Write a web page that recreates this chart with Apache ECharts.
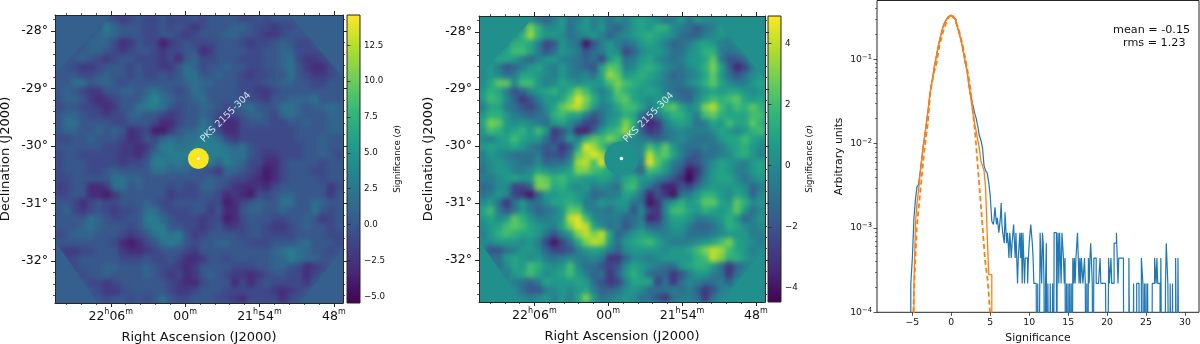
<!DOCTYPE html>
<html><head><meta charset="utf-8">
<style>html,body{margin:0;padding:0;background:#fff}#c{width:1200px;height:344px}</style>
<script src="https://cdn.jsdelivr.net/npm/echarts@6/dist/echarts.min.js"></script>
</head><body><div id="c"></div>
<script>
// Significance (rows top to bottom, columns left to right)
const sigRight = [
[0,0,0,0,0,0,0,-1,-1.5,-.5,.5,-1,-.5,.5,-.5,0,-1,0,-.5,.5,1,.5,0,-1,-.5,.5,-1,.5,0,0,0,0,0,0,0,0],
[0,0,0,0,0,0,3,1.5,0,0,.5,-1,0,.5,-.5,.5,-1,-1.5,-.5,.5,1,.5,1.5,1.5,0,-.5,-1,-2,-1,-.5,.5,0,0,0,0,0],
[0,0,0,0,0,1.5,3.5,1.5,.5,.5,0,-1,-.5,0,.5,-.5,-1.5,-.5,0,.5,1,1.5,1,.5,0,-1,-1.5,-1.5,-.5,0,.5,0,0,0,0,0],
[0,0,0,0,1.5,1.5,1,-.5,-2.5,-2,.5,-.5,-1,-4,-2,-.5,.5,-.5,-1,-.5,.5,1,.5,-.5,-1.5,-1,-.5,.5,1,.5,-.5,-.5,0,0,0,0],
[0,0,0,1,2,2,1,-.5,-2,-1,.5,0,-.5,-2,-1,-.5,.5,0,-2.5,-1.5,0,.5,.5,0,-1,-1,0,.5,1.5,1.5,-.5,-1,-.5,0,0,0],
[0,0,1,1,.5,-.5,-1.5,-.5,.5,.5,-.5,-.5,-1,-1.5,-1,-2.5,.5,1.5,-1,-.5,.5,1,0,-.5,-1,-.5,.5,.5,1,2.5,-.5,-2,-2,-1,.5,0],
[0,.5,-.5,-2,-1.5,-.5,.5,1,0,-.5,.5,-.5,-1,-1.5,-2,1,2.5,2,-.5,0,1,1.5,1,0,-.5,-1,0,.5,1.5,3,1,-1.5,-3.5,-2.5,-.5,.5],
[0,.5,0,-1,-.5,1,1,.5,0,-.5,.5,-.5,-.5,0,-1,1,3.5,2.5,.5,1,1.5,1,.5,-.5,-1.5,-1,-.5,0,1,2.5,.5,-1,-2,-1,0,.5],
[0,1,2.5,2.5,0,2,2,.5,-.5,0,1,.5,0,.5,.5,.5,2,3,2,1.5,1,.5,0,-.5,-1,-1,0,.5,1.5,2.5,1,0,-.5,-.5,.5,1],
[.5,1.5,1,-.5,-2,-1.5,0,.5,1,1.5,.5,1.5,3,2,.5,-.5,.5,2.5,1.5,1,.5,1,.5,-.5,-1,-1.5,-1.5,-.5,.5,1,.5,1,1,.5,0,.5],
[.5,2,1.5,0,-1.5,-3,-2,-.5,.5,.5,1,2.5,4.5,3,1.5,0,.5,2,2.5,1,.5,0,.5,.5,-.5,-1,-1.5,0,1,2,1.5,2,2.5,1,.5,1],
[-.5,1,1,-.5,-1,-2,-2.5,-1.5,0,1,2.5,3.5,4,2.5,.5,-.5,0,1,2,2,1,-.5,.5,2,2.5,1,0,.5,3,4,2,1,2,1.5,2.5,1.5],
[.5,1.5,1.5,.5,-.5,-1,-1.5,-1,-.5,1.5,2,1,1,-.5,-2,-1,0,.5,1.5,1,-1,-2,-.5,.5,1.5,1.5,.5,-.5,2,2.5,1.5,1,1,1,2,2],
[1,3,2.5,.5,0,.5,0,-.5,-1,.5,1,0,-1,-2.5,-2.5,-1,.5,1,3,1.5,-2,-3.5,-3,-.5,.5,1,.5,-1,-.5,1,.5,2,1,1,2.5,1.5],
[.5,2,1.5,.5,1,1.5,.5,2,.5,-3,-2,-.5,-3.5,-3.5,-1.5,.5,1.5,2,3.5,1,-1.5,-3,-2.5,-1,-.5,0,-.5,-.5,-.5,0,1,.5,0,.5,1.5,2],
[0,-.5,.5,1,2,1,.5,.5,-1,-2.5,-1.5,.5,-.5,1.5,2.5,2,3,2,0,0,-.5,-1,-1.5,-1,-.5,0,-.5,-1,-1,-.5,.5,1,1,2,1,.5],
[.5,1,.5,.5,1,.5,-.5,-1,-2,-1.5,-3,-2,1,4.5,3.5,2,0,0,0,0,0,2,1,2.5,.5,-.5,-1,-1,-.5,-1,-.5,.5,1,1.5,.5,0],
[-.5,.5,0,-.5,-1,-1,-1,-.5,-2,-2,-2.5,-1,2.5,3.5,4.5,3.5,0,0,0,0,0,4,2,2.5,1,-.5,-1.5,-2,-1,-1,-.5,0,1,1.5,.5,-.5],
[-.5,0,.5,0,-.5,-1,-1,0,-1.5,-1,-1,0,3.5,4,2,4.5,0,0,0,0,-.5,4.5,2.5,1,-.5,-1,-2.5,-2,-1,0,1,.5,0,-.5,.5,1],
[-1,0,.5,.5,-.5,-.5,0,1,.5,0,.5,1,3,3,2,1.5,1,-.5,0,-.5,-1.5,2,1.5,.5,-1,-2,-4,-3,-1,.5,1,.5,-.5,-.5,.5,1],
[-.5,-.5,0,.5,1,.5,.5,3,2.5,1.5,2,1,1,.5,.5,1,.5,0,1,1.5,.5,.5,-.5,-1,-2,-3,-4.5,-2.5,-.5,.5,1,1,0,-1,0,.5],
[-1.5,-1,0,0,-2.5,-2.5,-1.5,3,3,1,1.5,.5,0,.5,-.5,0,-.5,-1,1.5,2,0,-1,-2,-3.5,-3.5,-2,-2.5,-1,0,.5,.5,.5,.5,0,-1.5,-.5],
[-1,-.5,.5,0,-2.5,-3,-4,-1.5,.5,.5,1,1,.5,0,-1.5,-1,-.5,-.5,1,.5,-1,-3.5,-2,-3,-4,-1,-.5,.5,1.5,1.5,.5,0,1,.5,-1.5,0],
[0,.5,-1,-3,-1,.5,-1,-1,0,1,1,1.5,1,-.5,-.5,.5,0,.5,.5,-1,-1,-4,-3,-.5,.5,1.5,.5,1,2.5,2.5,1,.5,2.5,1.5,0,.5],
[1,2,-.5,-2,-1,.5,-.5,-1.5,-1,-.5,.5,2.5,2.5,0,-.5,-.5,-1,0,0,-2,0,-2.5,-3,0,2,2,1,.5,1.5,1,.5,1,2.5,.5,-1,0],
[.5,1,0,.5,2.5,1.5,.5,-.5,-.5,0,.5,4,4.5,2,0,-.5,-.5,-.5,-1.5,-1,-.5,-3.5,-3,-.5,1,1,.5,-.5,-.5,0,.5,1.5,.5,-1.5,-.5,.5],
[0,.5,1,2,2.5,2,1,.5,0,-.5,1,3,4.5,4,1,0,-1,-.5,-2,-1,0,-1.5,-1.5,-.5,.5,.5,-.5,-1.5,-1.5,-1,0,1.5,1,0,-.5,0],
[-.5,.5,1.5,2,1.5,1,1,.5,-1,-2,-.5,.5,3,4,3,4,1,-1.5,-.5,.5,1,.5,0,-.5,0,0,-1,-1,-1,-.5,0,.5,.5,.5,-.5,-.5],
[0,0,.5,.5,.5,0,.5,-.5,-2.5,-4,-2.5,-1,1,3,4,3.5,.5,-1,.5,1,1.5,2,1,0,-.5,-.5,-.5,0,.5,1,2,3,1,.5,0,-.5],
[-.5,-2,-2,-1,-.5,.5,.5,0,-1.5,-2.5,-2.5,-2,-.5,.5,1,.5,-.5,-1.5,0,.5,.5,.5,.5,0,.5,.5,1,2,3,4,3.5,2,1,.5,-.5,0],
[0,-1,-1,.5,1,.5,0,.5,-.5,-1,-.5,0,-.5,-.5,0,-.5,-3,-3,-1.5,0,0,-.5,0,.5,.5,.5,.5,1.5,2,4,3,1.5,1.5,.5,0,0],
[0,0,-1,0,1,.5,2,1.5,.5,0,.5,2,0,-1,-1,-2,-2.5,-2,0,1,.5,0,-.5,-1,-1,.5,1,1.5,1.5,.5,-1,-3,-1.5,-.5,0,0],
[0,0,0,-.5,.5,1,2,1,0,.5,1,2,.5,-.5,-1.5,-1,-3,-1.5,.5,1.5,.5,-1,-1.5,-1.5,-3,-2,-.5,.5,.5,-.5,-1,-3,-1,0,0,0],
[0,0,0,0,-.5,-1,-1.5,-.5,1,.5,.5,.5,1,.5,-1,-2,-3,-2.5,-.5,1,1,1,-2.5,-1,-3,-1,0,-.5,-1,-1,-.5,-1.5,0,0,0,0],
[0,0,0,0,0,-1,-2,-2,-.5,0,.5,0,.5,1,-.5,-1.5,-1.5,-1,0,.5,0,-1,-1,-1,-.5,-1,-.5,-1.5,-3,-2,-.5,0,0,0,0,0],
[0,0,0,0,0,0,-.5,0,.5,-.5,.5,-.5,1,3,.5,-1,-.5,0,.5,0,-1,-1,-2,-3,-1,-.5,-.5,-1,-3,-1,0,0,0,0,0,0]
];
// Significance
const sigLeft = [
[0,0,0,0,0,0,0,-1,-2,-1,0,-1,-1,0,-1,-1,-1,0,-1,0,0,0,0,-1,-1,0,-1,0,0,0,0,0,0,0,0,0],
[0,0,0,0,0,0,3,1,0,0,0,-1,-1,0,-1,0,-1,-2,-1,0,0,0,1,1,0,-1,-1,-2,-1,-1,0,0,0,0,0,0],
[0,0,0,0,0,1,2,1,0,0,0,-1,-1,0,0,-1,-2,-1,0,0,0,1,1,0,0,-1,-2,-2,-1,0,0,0,0,0,0,0],
[0,0,0,0,1,1,1,-1,-3,-2,0,-1,-1,-4,-2,-1,0,-1,-1,-1,0,0,0,-1,-2,-1,-1,0,1,0,-1,-1,0,0,0,0],
[0,0,0,0,1,1,0,-1,-2,-1,0,0,-1,-2,-1,-1,0,0,-3,-2,0,0,0,0,-1,-1,0,0,1,1,-1,-1,-1,0,0,0],
[0,0,0,1,0,-1,-2,-1,0,0,-1,-1,-1,-2,-1,-3,0,1,-1,-1,0,0,0,-1,-1,-1,0,0,1,2,-1,-2,-2,-1,0,0],
[0,0,-1,-2,-2,-1,0,0,0,-1,0,-1,-1,-2,-2,0,2,1,-1,0,0,1,0,0,-1,-1,0,0,1,2,0,-2,-3,-3,-1,0],
[0,0,0,-1,-1,0,1,0,0,-1,0,-1,-1,0,-1,0,2,2,0,0,1,0,0,-1,-2,-1,-1,0,0,2,0,-1,-2,-2,-1,0],
[0,0,2,2,0,1,1,0,-1,0,0,0,0,0,0,0,1,2,1,1,0,0,0,-1,-1,-1,0,0,1,1,0,0,-1,-1,0,0],
[0,1,0,-1,-2,-2,0,0,1,1,0,1,2,1,0,-1,0,2,1,0,0,0,0,-1,-1,-2,-2,-1,0,0,0,0,0,0,0,0],
[0,1,1,0,-2,-3,-2,-1,0,0,0,2,4,2,1,0,0,1,2,0,0,0,0,0,-1,-1,-2,0,0,1,1,1,2,0,0,0],
[-1,0,0,-1,-1,-2,-3,-2,0,0,2,3,3,2,0,-1,0,0,1,1,0,-1,0,1,2,0,0,0,2,2,1,0,1,1,2,1],
[0,1,1,0,-1,-1,-2,-1,-1,1,1,0,0,-1,-2,-1,0,0,1,0,-1,-2,-1,0,1,1,0,-1,1,2,1,0,0,0,1,1],
[0,2,2,0,0,0,0,-1,-1,0,0,0,-1,-3,-3,-1,0,0,2,1,-2,-3,-3,-1,0,0,0,-1,-1,0,0,1,0,0,1,1],
[0,1,1,0,0,1,0,1,0,-3,-2,-1,-4,-4,-2,0,1,1,3,1,-1,-3,-3,-1,-1,-1,-1,-1,-1,-1,0,0,0,0,1,1],
[-1,-1,0,0,1,0,0,0,-1,-3,-2,0,-1,1,2,1,2,2,3,3,2,-1,-2,-1,-1,-1,-1,-1,-1,-1,0,0,0,1,0,0],
[0,0,0,0,0,0,-1,-1,-2,-2,-3,-2,0,3,3,2,2,3,3,3,3,2,1,2,0,-1,-1,-1,-1,-1,-1,0,0,1,0,0],
[-1,0,0,-1,-1,-1,-1,-1,-2,-2,-3,-1,2,2,3,3,3,3,3,3,3,3,2,2,0,-1,-2,-2,-1,-1,-1,0,0,1,0,-1],
[-1,0,0,0,-1,-1,-1,-1,-2,-1,-1,0,3,3,2,3,2,3,3,3,1,3,2,1,-1,-1,-3,-3,-1,0,0,0,0,-1,0,0],
[-1,0,0,0,-1,-1,0,1,0,0,0,0,2,2,1,1,1,0,0,-1,-2,1,1,0,-1,-2,-4,-3,-1,0,0,0,-1,-1,0,0],
[-1,-1,0,0,0,0,0,2,2,1,1,0,0,0,0,0,0,0,0,1,0,0,-1,-1,-2,-3,-4,-3,-1,0,0,0,0,-1,0,0],
[-2,-1,0,0,-3,-3,-2,2,2,0,1,0,0,0,-1,0,-1,-1,1,1,0,-1,-2,-3,-3,-2,-3,-1,0,0,0,0,0,0,-2,-1],
[-1,-1,0,0,-3,-3,-4,-2,0,0,0,0,0,0,-2,-1,-1,-1,0,0,-1,-3,-2,-3,-4,-1,-1,0,1,1,0,0,0,0,-2,0],
[0,0,-1,-3,-1,0,-1,-1,0,0,0,1,0,-1,-1,0,0,0,0,-1,-1,-4,-3,-1,0,1,0,0,2,2,0,0,2,1,0,0],
[0,1,-1,-2,-1,0,-1,-2,-1,-1,0,2,2,0,-1,-1,-1,0,0,-2,0,-3,-3,0,1,1,0,0,1,0,0,0,2,0,-1,0],
[0,0,0,0,2,1,0,-1,-1,0,0,3,3,1,0,-1,-1,-1,-2,-1,-1,-4,-3,-1,0,0,0,-1,-1,0,0,1,0,-2,-1,0],
[0,0,0,1,2,1,0,0,0,-1,0,2,3,3,0,0,-1,-1,-2,-1,0,-2,-2,-1,0,0,-1,-2,-2,-1,0,1,0,0,-1,0],
[-1,0,1,1,1,0,0,0,-1,-2,-1,0,2,3,2,3,0,-2,-1,0,0,0,0,-1,0,0,-1,-1,-1,-1,0,0,0,0,-1,-1],
[0,0,0,0,0,0,0,-1,-3,-4,-3,-1,0,2,3,2,0,-1,0,0,1,1,0,0,-1,-1,-1,0,0,0,1,2,0,0,0,-1],
[-1,-2,-2,-1,-1,0,0,0,-2,-3,-3,-2,-1,0,0,0,-1,-2,0,0,0,0,0,0,0,0,0,1,2,3,2,1,0,0,-1,0],
[0,-1,-1,0,0,0,0,0,-1,-1,-1,0,-1,-1,0,-1,-3,-3,-2,0,0,-1,0,0,0,0,0,1,1,3,2,1,1,0,0,0],
[0,0,-1,0,0,0,1,1,0,0,0,1,0,-1,-1,-2,-3,-2,0,0,0,0,-1,-1,-1,0,0,1,1,0,-1,-3,-2,-1,0,0],
[0,0,0,-1,0,0,1,0,0,0,0,1,0,-1,-2,-1,-3,-2,0,1,0,-1,-2,-2,-3,-2,-1,0,0,-1,-1,-3,-1,0,0,0],
[0,0,0,0,-1,-1,-2,-1,0,0,0,0,0,0,-1,-2,-3,-3,-1,0,0,0,-3,-1,-3,-1,0,-1,-1,-1,-1,-2,0,0,0,0],
[0,0,0,0,0,-1,-2,-2,-1,0,0,0,0,0,-1,-2,-2,-1,0,0,0,-1,-1,-1,-1,-1,-1,-2,-3,-2,-1,0,0,0,0,0],
[0,0,0,0,0,0,-1,0,0,-1,0,-1,0,2,0,-1,-1,0,0,0,-1,-1,-2,-3,-1,-1,-1,-1,-3,-1,0,0,0,0,0,0]
];
const raEdges = [1330.5, 1307.26];
const decEdges = [-27.72, -32.735];
const raTicks = [1326, 1320, 1314, 1308];
const raTickLabels = ['{a|22}{s|h}{a|06}{s|m}', '{a|00}{s|m}', '{a|21}{s|h}{a|54}{s|m}', '{a|48}{s|m}'];
const decTicks = [-28, -29, -30, -31, -32];
const maskCorners = [
  [[1330.5,-27.72],[1330.5,-28.74],[1326,-27.72]],
  [[1307.26,-27.72],[1311.55,-27.72],[1307.26,-28.8]],
  [[1330.5,-32.735],[1330.5,-31.67],[1327.06,-32.735]],
  [[1307.26,-32.735],[1310.74,-32.735],[1307.26,-31.79]]
];
const sourcePos = [1318.93, -30.22];
const labelPos = [1316.72, -29.5];
const sourceName = 'PKS 2155-304';
const leftBarRange = [-5.47, 14.62];
const rightBarRange = [-4.45, 4.89];
const leftBarTicks = [-5, -2.5, 0, 2.5, 5, 7.5, 10, 12.5];
const rightBarTicks = [-4, -2, 0, 2, 4];
const viridis = ['#440154','#482878','#3e4989','#31688e','#26828e','#1f9e89','#35b779','#6ece58','#b5de2b','#fde725'];

// Histogram: bins of width 0.2, lower edges from -5.2 up to 5.2
const histCoreStart = -5.2;
const histBlueCore = [2.2e-4,4.4e-4,1.3e-3,2.2e-3,3.1e-3,3.3e-3,4.6e-3,6.5e-3,9.5e-3,.0125,.0175,.024,.035,.048,.06,.08,.1,.125,.155,.185,.22,.255,.28,.3,.32,.335,.345,.315,.3,.27,.24,.205,.175,.145,.115,.09,.075,.055,.04,.034,.028,.023,.02,.016,.0125,.011,.009,.0055,.0048,.0045,.0035,.0024,.0012];
const histOrange = [1e-6,1e-6,2.2e-4,1.1e-3,2e-3,2.8e-3,4.4e-3,6.5e-3,9.5e-3,.0125,.0175,.024,.035,.048,.06,.08,.1,.125,.155,.185,.22,.255,.28,.3,.32,.335,.345,.315,.3,.27,.24,.205,.175,.145,.115,.09,.075,.055,.04,.03,.022,.017,.014,.011,.0088,.0062,.0055,.0048,.003,.0009,.00028,.00028,1e-6];
// Blue tail: counts per 0.1 bin from 5.4 upward; one count is 2.2e-4
const tailStart = 5.4;
const tailBin = 0.1;
const tailCountUnit = 2.2e-4;
const histBlueTailCounts = [
5,6,8,8,5,6,5,4,4,6, 9,5,4,4,3,7,7,3,4,3,
2,4,3,2,3,3,5,5,2,4, 2,1,2,2,4,2,4,1,4,2,
1,2,2,2,1,2,3,3,5,5, 3,2,1,1,1,1,0,1,0,0,
4,4,1,4,3,1,0,1,3,0, 1,1,0,1,1,0,1,0,4,4,
4,0,2,4,1,4,4,1,4,4, 2,1,2,0,1,0,1,0,1,0,
1,0,2,1,2,1,2,2,4,4, 1,2,1,2,2,1,1,2,1,0,
1,0,2,1,2,3,3,1,0,2, 2,2,1,1,1,1,1,2,1,1,
1,1,1,1,1,1,0,0,2,1, 1,2,1,1,1,3,3,3,4,4,
1,2,2,2,2,2,2,1,0,0, 0,0,0,0,2,2,0,0,0,0,
1,0,0,0,1,1,1,0,0,0, 2,2,1,0,1,0,1,0,1,1,
0,0,0,0,1,1,1,2,2,1, 2,1,1,1,0,2,2,0,0,0,
0,1,3,3,1,1,0,1,1,0, 1,0,0,0,2,2,0,2,2,0];
const gaussX = [-4.87,-4.75,-4.44,-4,-3.46,-3,-2.7,-2.3,-1.9,-1.5,-1,-.5,0,.5,1,1.4,1.85,2.4,3.03,3.26,3.81,4.33,4.67,4.97];
const gaussY = [1e-4,2.2e-4,1e-3,2.6e-3,8.3e-3,.018,.04,.065,.09,.15,.22,.3,.345,.3,.22,.155,.098,.05,.0145,7.8e-3,1.8e-3,4.2e-4,2.4e-4,1e-4];
const histXTicks = [-5,0,5,10,15,20,25,30];
const meanText = 'mean = -0.15';
const rmsText = 'rms = 1.23';

const FONT = 'DejaVu Sans', INK = '#262626';
const grids = [], xAxes = [], yAxes = [], series = [], visualMaps = [];
const line = {show:true, onZero:false, lineStyle:{color:INK, width:1}};
const noLine = {show:false, onZero:false};
function seq(a, b, s){ const r = []; for (let v = a; v <= b + 1e-9; v += s) r.push(+v.toFixed(3)); return r; }
function hidden(o){ return Object.assign({axisLine:{show:false},axisTick:{show:false},axisLabel:{show:false},splitLine:{show:false}}, o); }
function addGrid(o){ grids.push(Object.assign({outerBoundsMode:'none'}, o)); return grids.length-1; }

function addAxesSet(rect, vals, opts){
  const g = addGrid(rect);
  const xi = xAxes.length, yi = yAxes.length;
  const base = {type:'value', gridIndex:g, splitLine:{show:false}, z:20};
  const xb = {min:raEdges[1], max:raEdges[0], inverse:true};
  const yb = {min:decEdges[1], max:decEdges[0]};
  const tick = {show:true, length:opts.len, customValues:null, lineStyle:{color:INK, width:opts.width}};
  xAxes.push(Object.assign({}, base, xb, {position:'bottom', axisLine:opts.major?line:noLine,
    axisTick:Object.assign({},tick,{customValues:vals.x}),
    axisLabel:opts.major?{show:true, customValues:raTicks, fontFamily:FONT, fontSize:12.5, color:'#111', margin:5, lineHeight:15,
      formatter:v=>raTickLabels[raTicks.indexOf(v)],
      rich:{a:{fontFamily:FONT,fontSize:12.5,color:'#111',verticalAlign:'bottom',lineHeight:15},s:{fontFamily:FONT,fontSize:8,color:'#111',verticalAlign:'top',lineHeight:15}}}:{show:false},
    name:opts.major?'Right Ascension (J2000)':'', nameLocation:'middle', nameGap:opts.xGap, nameTextStyle:{fontFamily:FONT,fontSize:13,color:'#111'}}));
  xAxes.push(Object.assign({}, base, xb, {position:'top', axisLine:opts.major?line:noLine, axisTick:Object.assign({},tick,{customValues:vals.x}), axisLabel:{show:false}}));
  yAxes.push(Object.assign({}, base, yb, {position:'left', axisLine:opts.major?line:noLine,
    axisTick:Object.assign({},tick,{customValues:vals.y}),
    axisLabel:opts.major?{show:true, customValues:decTicks, fontFamily:FONT, fontSize:12.5, color:'#111', margin:7, formatter:v=>v+'°'}:{show:false},
    name:opts.major?'Declination (J2000)':'', nameLocation:'middle', nameGap:opts.yGap, nameRotate:90, nameTextStyle:{fontFamily:FONT,fontSize:13,color:'#111'}}));
  yAxes.push(Object.assign({}, base, yb, {position:'right', axisLine:opts.major?line:noLine, axisTick:Object.assign({},tick,{customValues:vals.y}), axisLabel:{show:false}}));
  return {xi, yi};
}

function addMap(rect, sig, range, maskColor, discSize, discColor, dotSize, yGap){
  const g = addGrid(rect);
  const hx = xAxes.length, hy = yAxes.length;
  xAxes.push(hidden({type:'category', gridIndex:g, data:sig[0].map((_,i)=>i)}));
  yAxes.push(hidden({type:'category', gridIndex:g, data:sig.map((_,i)=>i), inverse:true}));
  const data = [];
  sig.forEach((row,r)=>row.forEach((v,c)=>data.push([c,r,v])));
  visualMaps.push({type:'continuous', show:false, min:range[0], max:range[1], seriesIndex:series.length, inRange:{color:viridis}});
  series.push({type:'heatmap', zlevel:-1, xAxisIndex:hx, yAxisIndex:hy, data, silent:true, progressive:0, animation:false});

  const maj = addAxesSet(rect, {x:raTicks, y:decTicks}, {major:true, len:4, width:1, xGap:28, yGap});
  const minorX = seq(1308,1330,1.2).filter(v=>!raTicks.includes(v));
  const minorY = seq(-32.6,-27.8,.2).filter(v=>!decTicks.includes(v));
  addAxesSet(rect, {x:minorX, y:minorY}, {major:false, len:2, width:.8});

  const ax = {xAxisIndex:maj.xi, yAxisIndex:maj.yi, silent:true, animation:false};
  series.push(Object.assign({}, ax, {type:'custom', z:3, data:maskCorners.map(t=>t[0]), clip:true,
    renderItem:(p,api)=>({type:'polygon', shape:{points:maskCorners[p.dataIndex].map(q=>api.coord(q))}, style:{fill:maskColor, stroke:maskColor}})}));
  series.push(Object.assign({}, ax, {type:'scatter', z:4, symbol:'circle', symbolSize:discSize, data:[sourcePos], itemStyle:{color:discColor, opacity:1}}));
  series.push(Object.assign({}, ax, {type:'scatter', z:5, symbol:'circle', symbolSize:dotSize, data:[sourcePos], itemStyle:{color:'#fff', opacity:1}}));
  series.push(Object.assign({}, ax, {type:'scatter', z:6, symbolSize:0, data:[labelPos],
    label:{show:true, position:'inside', rotate:45, formatter:sourceName, color:'#fff', fontFamily:FONT, fontSize:9.5}}));
}

function addBar(rect, range, ticks){
  const g = addGrid(rect);
  const xi = xAxes.length, yi = yAxes.length;
  xAxes.push(hidden({type:'value', gridIndex:g, min:0, max:1}));
  yAxes.push({type:'value', gridIndex:g, min:range[0], max:range[1], position:'right', z:20, splitLine:{show:false},
    axisLine:{show:false}, axisTick:{show:true, length:3.5, customValues:ticks, lineStyle:{color:INK, width:.8}},
    axisLabel:{show:true, customValues:ticks, margin:4, fontFamily:FONT, fontSize:8.7, color:'#111', formatter:v=>String(Number.isInteger(v)&&ticks.includes(2.5)?v.toFixed(1):v).replace('-','\u2212')},
    name:'Significance ({i|σ})', nameLocation:'middle', nameRotate:90, nameGap:ticks.includes(2.5)?33:24,
    nameTextStyle:{fontFamily:FONT, fontSize:8.7, color:'#111', rich:{i:{fontFamily:FONT, fontStyle:'italic', fontSize:8.7, color:'#111'}}}});
  series.push({type:'custom', xAxisIndex:xi, yAxisIndex:yi, data:[[0,range[0]]], silent:true, animation:false, clip:false,
    renderItem:(p,api)=>{ const c = p.coordSys;
      return {type:'rect', shape:{x:c.x,y:c.y,width:c.width,height:c.height},
        style:{stroke:INK, lineWidth:1, fill:new echarts.graphic.LinearGradient(0,1,0,0,viridis.map((col,i)=>({offset:i/(viridis.length-1),color:col})))}}; }});
}

const leftRect = {left:55, top:15, width:288, height:288};
const rightRect = {left:479, top:16, width:286, height:286};
const leftMask = '#355f8d', rightMask = '#21908d';
addMap(leftRect, sigLeft, leftBarRange, leftMask, 21, '#f8e621', 3, 43);
addBar({left:347, top:15, width:13, height:288}, leftBarRange, leftBarTicks);
addMap(rightRect, sigRight, rightBarRange, rightMask, 34, rightMask, 3.5, 44);
addBar({left:768, top:16, width:13, height:286}, rightBarRange, rightBarTicks);

// Histogram panel
const hRect = {left:877, top:0.5, width:322, height:311.8};
const hg = addGrid(Object.assign({show:true, borderColor:INK, borderWidth:1, backgroundColor:'#fff'}, hRect));
const hxI = xAxes.length, hyI = yAxes.length;
xAxes.push({type:'value', gridIndex:hg, min:-9.54, max:31.8, splitLine:{show:false}, axisLine:{show:false,onZero:false},
  axisTick:{show:true, length:3.5, customValues:histXTicks, lineStyle:{color:INK,width:.8}},
  axisLabel:{show:true, customValues:histXTicks, fontFamily:FONT, fontSize:9.3, color:'#111', margin:6, formatter:v=>String(v).replace('-','\u2212')},
  name:'Significance', nameLocation:'middle', nameGap:19, nameTextStyle:{fontFamily:FONT, fontSize:10.8, color:'#111'}});
yAxes.push({type:'log', logBase:10, gridIndex:hg, min:1e-4, max:.5, splitLine:{show:false}, axisLine:{show:false,onZero:false}, minorTick:{show:false},
  axisTick:{show:true, length:3.5, lineStyle:{color:INK,width:.8}},
  axisLabel:{show:true, showMaxLabel:false, fontFamily:FONT, fontSize:9.3, color:'#111', margin:5, formatter:v=>'10{s|\u2212'+Math.round(-Math.log10(v))+'}',
    rich:{s:{fontFamily:FONT,fontSize:6.8,color:'#111',verticalAlign:'top',padding:[0,0,5,0]}}},
  name:'Arbitrary units', nameLocation:'middle', nameGap:32, nameRotate:90, nameTextStyle:{fontFamily:FONT, fontSize:10.8, color:'#111'}});
const hAx = {xAxisIndex:hxI, yAxisIndex:hyI, silent:true, animation:false, showSymbol:false, symbol:'none', clip:true};
const blue = [];
histBlueCore.forEach((v,i)=>blue.push([+(histCoreStart+.2*i).toFixed(2), v]));
histBlueTailCounts.forEach((n,i)=>blue.push([+(tailStart+tailBin*i).toFixed(2), n? n*tailCountUnit : 1e-6]));
const orange = histOrange.map((v,i)=>[+(histCoreStart+.2*i).toFixed(2), v]);
series.push(Object.assign({}, hAx, {type:'line', step:'end', z:3, data:[[histCoreStart,1e-6]].concat(blue), lineStyle:{color:'#1f77b4', width:1.2}}));
series.push(Object.assign({}, hAx, {type:'line', step:'end', z:4, data:orange, lineStyle:{color:'#ff7f0e', width:1.3}}));
series.push(Object.assign({}, hAx, {type:'line', z:5, data:gaussX.map((x,i)=>[x,gaussY[i]]), lineStyle:{color:'#ff7f0e', width:1.8, type:[5,3]}}));
// log-axis minor ticks on a linear log10 overlay
const mg = addGrid(hRect);
xAxes.push(hidden({type:'value', gridIndex:mg, min:0, max:1}));
const logMinor = [];
[-4,-3,-2,-1].forEach(d=>[2,3,4,5,6,7,8,9].forEach(m=>{const v=d+Math.log10(m); if(v<=Math.log10(.5)) logMinor.push(v);}));
yAxes.push({type:'value', gridIndex:mg, min:-4, max:Math.log10(.5), splitLine:{show:false}, axisLine:{show:false,onZero:false}, axisLabel:{show:false},
  axisTick:{show:true, length:2, customValues:logMinor, lineStyle:{color:INK,width:.6}}});

// Backing colour for the smoothed image layer, so its edges stay solid inside the frames
function backing(r, fill){ return {type:'rect', zlevel:-1, z:-1, silent:true, shape:{x:r.left-14, y:r.top-14, width:r.width+28, height:r.height+28}, style:{fill}}; }
const graphic = [
  backing(leftRect, leftMask), backing(rightRect, rightMask),
  {type:'text', left:1113, top:25, style:{text:meanText, font:'11.2px "DejaVu Sans"', fill:'#111'}},
  {type:'text', left:1123, top:38, style:{text:rmsText, font:'11.2px "DejaVu Sans"', fill:'#111'}}
];

const chart = echarts.init(document.getElementById('c'), null, {renderer:'canvas'});
chart.setOption({animation:false, backgroundColor:'#fff', textStyle:{fontFamily:FONT},
  grid:grids, xAxis:xAxes, yAxis:yAxes, visualMap:visualMaps, series, graphic});

// Smooth only the image layer (rendering style, as the reference image is interpolated)
function styleImageLayer(){
  const cv = document.querySelector('canvas[data-zr-dom-id="zr_-1"]');
  if (!cv) return;
  cv.style.filter = 'blur(2.6px)';
  const r = (o)=>`M${o.left} ${o.top}h${o.width}v${o.height}h${-o.width}z`;
  cv.style.clipPath = `path('${r(leftRect)} ${r(rightRect)}')`;
}
styleImageLayer();
chart.on('finished', styleImageLayer);
</script></body></html>
